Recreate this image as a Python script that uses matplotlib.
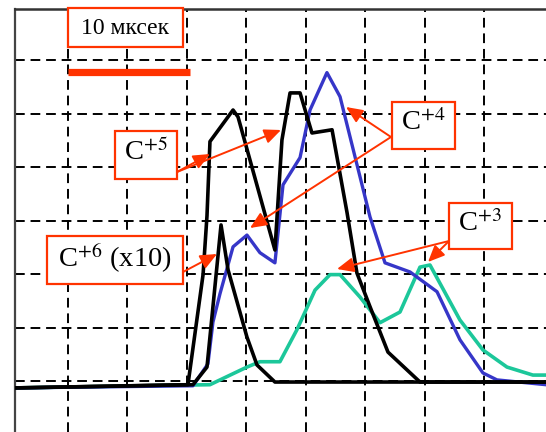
import matplotlib
matplotlib.use("Agg")
import matplotlib.pyplot as plt
from matplotlib.patches import Rectangle

plt.rcParams['font.family'] = ['Liberation Serif', 'DejaVu Serif']
plt.rcParams['mathtext.fontset'] = 'stix'

# ---- data (time in microseconds, signal in grid units) ----
c5_t = [0.55, 15.08, 16.35, 16.68, 16.93, 18.87, 19.29, 22.39, 22.98, 23.66, 24.50,
        25.50, 27.19, 28.45, 29.28, 30.38, 31.89, 34.58, 45.17]
c5_v = [-0.13, -0.07, 1.99, 3.09, 4.48, 5.07, 4.94, 2.45, 4.51, 5.39, 5.39,
        4.64, 4.70, 3.15, 2.02, 1.39, 0.54, -0.02, -0.02]

c6_t = [0.55, 15.50, 16.68, 17.86, 18.45, 20.04, 20.88, 22.39, 45.17]
c6_v = [-0.13, -0.07, 0.26, 2.92, 2.08, 0.82, 0.30, -0.02, -0.02]

c4_t = [0.55, 15.50, 16.76, 17.18, 17.77, 18.87, 20.04, 21.13, 22.39, 23.07, 24.50,
        25.34, 26.76, 27.86, 28.70, 30.38, 31.64, 33.74, 36.01, 37.94, 39.87, 41.05, 45.17]
c4_v = [-0.13, -0.09, 0.32, 1.10, 1.63, 2.51, 2.73, 2.40, 2.21, 3.67, 4.18,
        5.07, 5.77, 5.32, 4.57, 3.07, 2.21, 2.04, 1.67, 0.77, 0.15, 0.02, -0.07]

c3_t = [0.55, 16.93, 20.04, 21.13, 22.81, 24.24, 25.76, 27.02, 27.86, 29.54, 31.22,
        32.90, 34.58, 35.42, 37.94, 39.87, 41.89, 44.07, 45.17]
c3_v = [-0.13, -0.07, 0.26, 0.36, 0.36, 0.96, 1.70, 1.99, 1.99, 1.57, 1.09,
        1.29, 2.13, 2.17, 1.14, 0.58, 0.26, 0.11, 0.11]

scale_bar_t = [5.0, 15.25]
scale_bar_level = 5.78

grid_x = [5, 10, 15, 20, 25, 30, 35, 40]
grid_y = [0, 1, 2, 3, 4, 5, 6]
tick_marks_x = [10, 20]

RED = "#ff3300"
BLUE = "#3636c8"
GREEN = "#1cc79a"

W, H = 546, 432
fig = plt.figure(figsize=(W / 100, H / 100), dpi=100)
ax = fig.add_axes([15 / W, 0, 531 / W, 423 / H])
ax.set_xlim(0.546, 45.17)
ax.set_ylim(-0.955, 6.96)

# grid
ax.set_xticks(grid_x)
ax.set_yticks(grid_y)
ax.set_xticks(tick_marks_x, minor=True)
ax.grid(True, which='major', color='black', linestyle=(0, (5, 3)), linewidth=1.4)
ax.tick_params(which='major', length=0, labelbottom=False, labelleft=False)
ax.tick_params(which='minor', axis='x', length=15, width=2.2, direction='in',
               bottom=True, color='black')
for s in ['right', 'bottom']:
    ax.spines[s].set_visible(False)
ax.spines['left'].set_color('#444444')
ax.spines['left'].set_linewidth(1.6)
ax.spines['top'].set_color('#333333')
ax.spines['top'].set_linewidth(1.8)

# curves
ax.plot(c3_t, c3_v, color=GREEN, lw=2.6, zorder=3)
ax.plot(c4_t, c4_v, color=BLUE, lw=2.4, zorder=4)
ax.plot(c6_t, c6_v, color='black', lw=2.6, zorder=5)
ax.plot(c5_t, c5_v, color='black', lw=2.6, zorder=5)

# scale bar
ax.plot(scale_bar_t, [scale_bar_level] * 2, color=RED, lw=5.2,
        solid_capstyle='butt', zorder=6)


def fp(x, y):
    return (x / W, 1 - y / H)


def box(x0, y0, x1, y1):
    r = Rectangle(fp(x0, y1), (x1 - x0) / W, (y1 - y0) / H,
                  transform=fig.transFigure, facecolor='white',
                  edgecolor=RED, linewidth=1.6, zorder=10)
    fig.add_artist(r)


def label(x, y, s, size):
    fig.text(*fp(x, y), s, ha='center', va='center', fontsize=size,
             color='black', zorder=11)


def arrow(x0, y0, x1, y1):
    ax.annotate('', xy=fp(x1, y1), xytext=fp(x0, y0),
                xycoords='figure fraction', textcoords='figure fraction',
                arrowprops=dict(arrowstyle='-|>,head_length=0.5,head_width=0.22',
                                color=RED, lw=1.4, shrinkA=0, shrinkB=0,
                                mutation_scale=20), zorder=9)


# 10 mks box
box(68, 8, 183, 47)
label(125, 29, "10 мксек", 17)

# C+5
arrow(177, 172, 210, 154)
arrow(177, 172, 281, 130)
box(115, 131, 177, 179)
label(146, 152, "C$^{+5}$", 20.5)

# C+4
arrow(391, 137, 346, 107)
arrow(391, 137, 250, 228)
box(392, 102, 455, 149)
label(423, 123, "C$^{+4}$", 20.5)

# C+3
arrow(449, 241, 337, 269)
arrow(449, 241, 428, 262)
box(449, 203, 512, 249)
label(480, 224, "C$^{+3}$", 20.5)

# C+6
arrow(183, 272, 217, 254)
box(47, 236, 183, 284)
label(115, 258, "C$^{+6}$ (x10)", 20.5)

fig.savefig("out.png", dpi=100)
